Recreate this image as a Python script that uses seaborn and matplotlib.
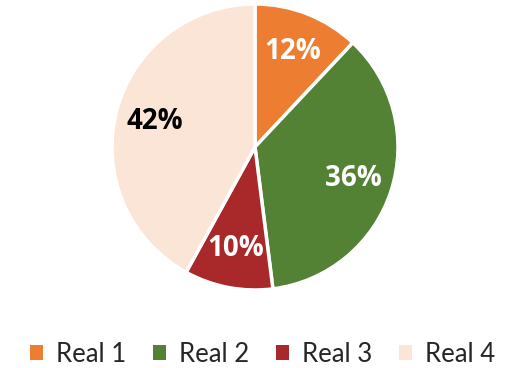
import matplotlib
matplotlib.use("Agg")
import matplotlib.pyplot as plt
from matplotlib.patches import Patch
import seaborn as sns

labels = ["Real 1", "Real 2", "Real 3", "Real 4"]
shares = [12, 36, 10, 42]
colors = ["#ED7D31", "#548235", "#A9292A", "#FBE5D6"]
text_colors = ["white", "white", "white", "black"]

sns.set_theme(style="white")
plt.rcParams["font.family"] = ["Lato", "DejaVu Sans"]

fig = plt.figure(figsize=(5.25, 3.68), dpi=100)
ax = fig.add_axes([0.2133, 0.212, 0.5448, 0.7772])

wedges, texts, autotexts = ax.pie(
    shares, colors=colors, startangle=90, counterclock=False,
    radius=1.0, autopct=lambda p: f"{p:.0f}%", pctdistance=0.72,
    wedgeprops=dict(edgecolor="white", linewidth=2.5),
)
for t, c in zip(autotexts, text_colors):
    t.set_color(c)
    t.set_fontfamily(["Open Sans", "DejaVu Sans"])
    t.set_fontweight("bold")
    t.set_fontsize(20)
ax.set_xlim(-1, 1)
ax.set_ylim(-1, 1)
ax.set_aspect("equal")
ax.axis("off")

handles = [Patch(facecolor=c, edgecolor="none") for c in colors]
fig.legend(handles, labels, loc="center", bbox_to_anchor=(0.5, 0.038),
           ncol=4, frameon=False, fontsize=18.5, handlelength=0.5,
           handleheight=0.5, handletextpad=0.5, columnspacing=1.05)

fig.savefig("out.png", dpi=100)
